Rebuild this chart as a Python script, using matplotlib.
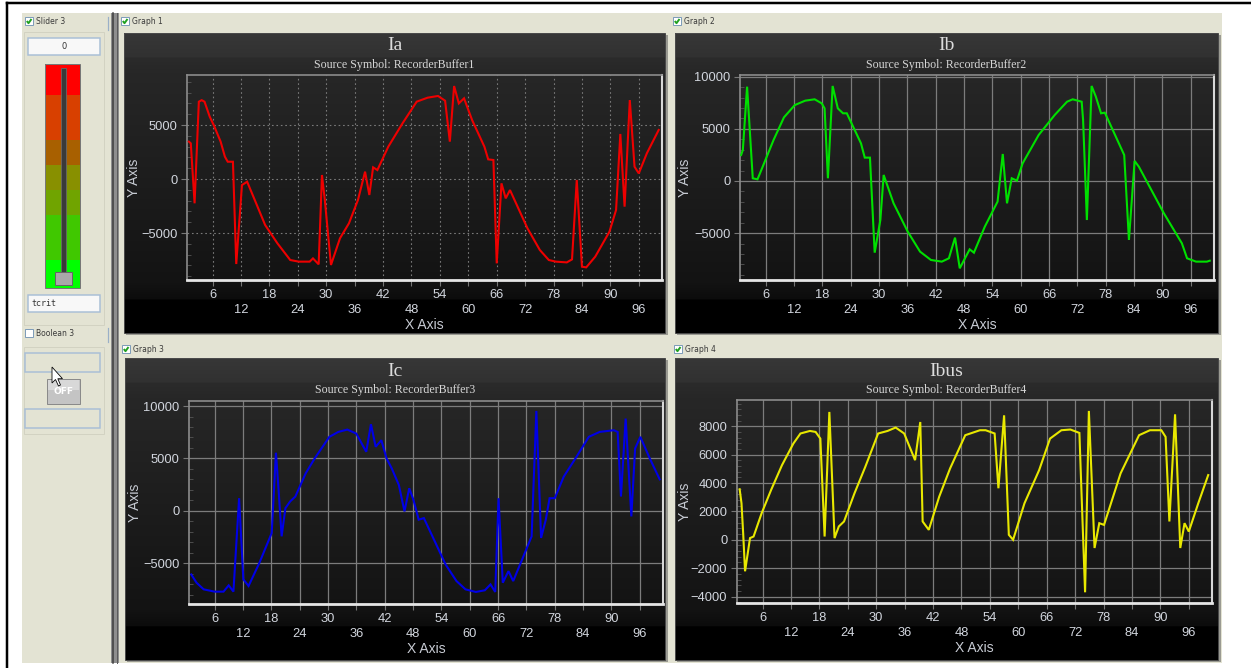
import numpy as np
import matplotlib
matplotlib.use("Agg")
import matplotlib.pyplot as plt
from matplotlib.patches import Rectangle, Polygon
from matplotlib.ticker import MultipleLocator

# ---------------- data ----------------
ia_x = [1.0, 1.4, 2.2, 3.1, 3.7, 4.3, 5.4, 6.3, 7.7, 8.6, 9.2, 10.3, 11.0, 12.2, 13.3, 15.2, 17.1, 19.7,
        22.4, 24.2, 26.5, 27.2, 28.4, 29.1, 29.7, 31.0, 32.9, 34.8, 36.7, 38.2, 39.1, 39.9, 40.8, 43.1,
        46.1, 49.1, 51.4, 53.6, 55.1, 56.1, 57.0, 58.0, 59.1, 60.8, 63.4, 64.2, 65.3, 66.0, 67.0, 67.9,
        68.8, 72.5, 75.1, 77.0, 78.5, 80.8, 81.9, 82.9, 84.0, 84.9, 86.8, 89.8, 91.2, 92.1, 93.0, 94.1,
        95.1, 96.0, 97.7, 100.2]
ia_y = [3460, 3300, -2250, 7160, 7300, 7160, 5770, 4940, 3460, 2070, 1600, 1600, -7870, -560, -250,
        -2250, -4260, -5960, -7500, -7650, -7650, -7350, -7900, 370, -1940, -7960, -5490, -4100, -1940,
        680, -1480, 1080, 830, 2990, 5150, 7160, 7530, 7690, 7250, 3460, 8610, 7000, 7470, 5460, 2990,
        1820, 1760, -7810, -400, -1790, -1020, -4570, -6570, -7500, -7650, -7720, -7440, -90, -8120,
        -8180, -7190, -4880, -2870, 4170, -2560, 7310, 1140, 520, 2380, 4540]

ib_x = [0.84, 1.2, 2.1, 3.3, 4.3, 5.4, 7.7, 9.9, 12.2, 14.4, 16.4, 17.9, 18.5, 19.2, 20.2, 21.3, 22.4,
        23.2, 26.2, 27.0, 28.1, 29.1, 30.3, 31.0, 33.1, 36.1, 38.7, 41.0, 43.3, 44.8, 46.1, 47.1, 49.2,
        50.1, 52.4, 55.1, 56.2, 57.1, 58.1, 59.2, 60.4, 63.8, 67.2, 69.8, 71.0, 72.9, 73.2, 74.0, 75.0,
        75.9, 77.0, 77.8, 81.9, 82.9, 84.1, 85.0, 90.3, 94.1, 95.2, 97.1, 99.4, 100.0]
ib_y = [2490, 2970, 9040, 260, 160, 1370, 3930, 6100, 7280, 7700, 7830, 7440, 6960, 260, 9110, 6960,
        6490, 6490, 3610, 2240, 2240, -6870, -3740, 580, -2140, -4860, -6770, -7570, -7730, -7410,
        -5430, -8370, -6550, -6870, -4380, -1980, 2590, -2140, 260, 30, 1690, 4410, 6330, 7600, 7830,
        7600, 5850, -3740, 9110, 8080, 6490, 6550, 2490, -5650, 1920, 1370, -3100, -5970, -7410, -7730,
        -7730, -7640]

ic_x = [1.07, 2.2, 3.7, 6.0, 7.9, 9.0, 10.0, 11.2, 12.1, 13.2, 15.5, 18.1, 19.0, 19.6, 20.2, 21.0,
        22.0, 23.1, 25.3, 27.2, 30.3, 32.2, 34.1, 36.0, 38.1, 39.1, 40.1, 41.3, 42.4, 43.5, 45.0, 46.2,
        47.2, 48.1, 49.2, 50.3, 52.6, 54.9, 57.2, 59.1, 61.3, 63.2, 64.4, 65.4, 66.1, 67.0, 68.2, 69.2,
        70.8, 73.1, 74.1, 75.1, 76.1, 76.9, 78.0, 79.9, 82.6, 85.2, 87.5, 90.5, 91.3, 92.0, 93.0, 94.2,
        95.0, 96.1, 98.1, 100.2]
ic_y = [-6080, -6870, -7500, -7720, -7720, -7120, -7720, 1200, -6550, -7180, -4970, -2120, 5540, 1680,
        -2440, 250, 890, 1360, 3580, 5000, 7060, 7530, 7750, 7370, 5630, 8260, 6110, 6740, 5000, 4050,
        2470, -60, 2150, 1040, -850, -700, -2910, -5130, -6710, -7500, -7750, -7590, -7030, -7750, 1200,
        -6870, -5760, -6710, -4970, -2440, 9530, -2590, -850, 1200, 1200, 3260, 5160, 7060, 7530, 7690,
        7530, 1360, 8800, -540, 5950, 7060, 5000, 3000]

ibus_x = [1.16, 1.55, 1.9, 2.3, 3.35, 4.1, 5.8, 7.8, 10.1, 12.5, 14.0, 16.0, 17.2, 18.2, 19.1, 20.1,
          21.2, 22.1, 23.2, 25.4, 27.7, 30.4, 32.4, 34.1, 35.9, 38.2, 39.3, 39.8, 41.1, 43.3, 45.6, 48.8,
          51.9, 53.1, 55.0, 55.8, 57.0, 58.0, 58.9, 61.3, 64.4, 66.7, 69.1, 71.0, 72.9, 73.3, 74.1, 74.9,
          76.1, 77.1, 78.1, 81.6, 85.5, 87.8, 90.2, 91.1, 91.9, 93.1, 94.2, 95.1, 96.0, 98.0, 100.1]
ibus_y = [3560, 2570, 470, -2220, 120, 230, 1870, 3510, 5260, 6780, 7490, 7670, 7600, 7130, 230, 9010,
          120, 940, 1290, 3270, 5150, 7490, 7670, 7910, 7490, 5610, 8300, 1290, 700, 3040, 5030, 7370,
          7720, 7720, 7490, 3630, 8770, 350, 0, 2570, 4910, 7130, 7720, 7770, 7530, 3740, -3700, 9080,
          -580, 1170, 1050, 4680, 7370, 7720, 7720, 7250, 1290, 8840, -580, 1170, 580, 2570, 4560]

titles = ["Ia", "Ib", "Ic", "Ibus"]
subtitles = ["Source Symbol: RecorderBuffer1", "Source Symbol: RecorderBuffer2",
             "Source Symbol: RecorderBuffer3", "Source Symbol: RecorderBuffer4"]
graph_names = ["Graph 1", "Graph 2", "Graph 3", "Graph 4"]
x_ticks_row1 = [6, 18, 30, 42, 54, 66, 78, 90]
x_ticks_row2 = [12, 24, 36, 48, 60, 72, 84, 96]
y_steps = [5000, 5000, 5000, 2000]
y_limits = [(-9350, 9630), (-9490, 10160), (-8900, 10480), (-4455, 9850)]
line_colors = ["#ee0000", "#00e000", "#0000e6", "#e8e800"]
series = [(ia_x, ia_y), (ib_x, ib_y), (ic_x, ic_y), (ibus_x, ibus_y)]

# ---------------- figure ----------------
W, H = 1251, 668
fig = plt.figure(figsize=(W / 100, H / 100), dpi=100)
fig.patch.set_facecolor("white")
bg = fig.add_axes([0, 0, 1, 1])
bg.set_xlim(0, W)
bg.set_ylim(H, 0)
bg.axis("off")

PX = 0.72  # one pixel in points
BEIGE = "#e3e3d3"


def rect(x0, y0, x1, y1, fc, ec="none", lw=0, z=1):
    bg.add_patch(Rectangle((x0, y0), x1 - x0, y1 - y0, facecolor=fc, edgecolor=ec,
                           linewidth=lw, zorder=z))


def checkbox(x, y, label, checked=True):
    rect(x, y, x + 8, y + 8, "white", "#7f9db9", PX, 5)
    if checked:
        bg.plot([x + 1.8, x + 3.5, x + 6.5], [y + 4, y + 6.2, y + 2], color="#21a121",
                lw=1.4, zorder=6, solid_capstyle="butt")
    bg.text(x + 11, y + 4.5, label, fontsize=5.5, color="#3a3a3a", va="center", ha="left",
            family="DejaVu Sans", zorder=6)


# outer frame
rect(22, 13, 1222, 663, BEIGE, z=0.5)
bg.plot([7, W], [3, 3], color="black", lw=2.5 * PX, zorder=3)
bg.plot([7, 7], [3, H], color="black", lw=2.5 * PX, zorder=3)

# splitter
rect(111, 13, 119, 663, "#8e8e8e", z=1)
bg.plot([112.5, 112.5], [13, 663], color="#3c3c3c", lw=1.5 * PX, zorder=2)
bg.plot([117.2, 117.2], [13, 663], color="#5a5a5a", lw=1.0 * PX, zorder=2)
bg.plot([108, 108], [17, 30], color="#9ab0c8", lw=1.2 * PX, zorder=2)
bg.plot([108, 108], [328, 342], color="#9ab0c8", lw=1.2 * PX, zorder=2)

# left control column
checkbox(25, 17, "Slider 3")
rect(24, 32, 104, 325, "none", "#d2d2c2", PX, 1.5)
rect(28, 38, 100, 55, "#f8f8f8", "#a9bfd6", 1.5 * PX, 3)
bg.text(64, 46.5, "0", fontsize=6, color="#333333", ha="center", va="center", zorder=4)
slider_bands = [(64, 95, "#ff0000"), (95, 140, "#d84000"), (140, 165, "#a86000"),
                (165, 190, "#889000"), (190, 215, "#70a400"), (215, 260, "#40c800"),
                (260, 288, "#00ff00")]
for y0, y1, c in slider_bands:
    rect(45, y0, 80, y1, c, z=2)
rect(45, 64, 80, 288, "none", "#777777", PX, 3)
rect(61, 68, 66, 282, "#3a3a3a", "#6a6a6a", 0.8 * PX, 3)
rect(55, 272, 72, 285, "#a8a8a8", "#666666", PX, 4)
rect(28, 295, 100, 312, "#f8f8f8", "#a9bfd6", 1.5 * PX, 3)
bg.text(31, 303.5, "tcrit", fontsize=6, color="#333333", ha="left", va="center",
        family="DejaVu Sans Mono", zorder=4)
checkbox(25, 329, "Boolean 3", checked=False)
rect(24, 347, 104, 434, "none", "#d2d2c2", PX, 1.5)
rect(25, 353, 100, 372, "none", "#a9bfd6", 1.5 * PX, 3)
rect(47, 379, 80, 404, "#c4c4c4", "#8a8a8a", PX, 3)
rect(48, 380, 79, 390, "#d8d8d8", z=3.5)
bg.text(63.5, 391.5, "OFF", fontsize=6.5, color="white", ha="center", va="center",
        fontweight="bold", zorder=4)
rect(25, 409, 100, 428, "none", "#a9bfd6", 1.5 * PX, 3)
bg.add_patch(Polygon([(52, 367), (52, 383), (55.5, 379.5), (58.5, 386), (60.5, 385),
                      (57.8, 378.7), (62.5, 378.7)], closed=True, facecolor="white",
                     edgecolor="black", linewidth=0.8 * PX, zorder=8))

# graph panels (pixel rectangles)
panels = [(124, 33, 665, 333), (675, 33, 1218, 333), (125, 358, 665, 660), (675, 358, 1218, 660)]
plot_boxes = [(187, 75, 662, 280), (740, 75, 1214, 280), (189, 401, 663, 604), (737, 400, 1212, 603)]
check_pos = [(121, 17), (673, 17), (122, 345), (674, 345)]


def panel_bg(x0, y0, x1, y1):
    n = int(y1 - y0)
    t = np.arange(n) + 0.5
    s = n / 300.0
    st = np.array([0, 24, 25, 40, 250, 266, 267, 300]) * s
    sv = np.array([0x37, 0x31, 0x2b, 0x27, 0x13, 0x0c, 0x00, 0x00]) / 255.0
    v = np.interp(t, st, sv)
    img = np.repeat(v[:, None], 3, axis=1)[:, None, :]
    rect(x0 + 2, y0 + 2, x1 + 3, y1 + 2, "#9a9a92", z=1.5)
    bg.imshow(img, extent=(x0, x1, y1, y0), aspect="auto", origin="upper",
              interpolation="bilinear", zorder=2)
    rect(x0, y0, x1, y1, "none", "#4a4a4a", PX, 2.5)


for i in range(4):
    x0, y0, x1, y1 = panels[i]
    panel_bg(x0, y0, x1, y1)
    checkbox(check_pos[i][0], check_pos[i][1], graph_names[i])
    cx = (x0 + x1) / 2
    bg.text(cx, y0 + 13, titles[i], fontsize=14, color="#dcdcdc", ha="center", va="center",
            family="Liberation Serif", zorder=4)
    bg.text(cx, y0 + 32, subtitles[i], fontsize=8.6, color="#d6d6d6", ha="center",
            va="center", family="Liberation Serif", zorder=4)

bg.set_xlim(0, W)
bg.set_ylim(H, 0)

# graph axes
TICK_C = "#d2d6de"
for i in range(4):
    l, t, r, b = plot_boxes[i]
    ax = fig.add_axes([l / W, 1 - b / H, (r - l) / W, (b - t) / H])
    ax.set_facecolor("none")
    xs, ys = series[i]
    ax.plot(xs, ys, color=line_colors[i], lw=1.5, zorder=3, solid_joinstyle="miter")
    ax.set_xlim(0.6, 100.9)
    ax.set_ylim(*y_limits[i])
    ax.set_xticks(x_ticks_row1)
    ax.set_xticklabels([str(v) for v in x_ticks_row1])
    ax.set_xticks(x_ticks_row2, minor=True)
    ax.set_xticklabels([str(v) for v in x_ticks_row2], minor=True)
    ax.yaxis.set_major_locator(MultipleLocator(y_steps[i]))
    ax.yaxis.set_minor_locator(MultipleLocator(y_steps[i] / 5))
    ax.tick_params(axis="x", which="major", length=4, width=0.8, color="#777777",
                   labelcolor=TICK_C, labelsize=9.3, pad=2.5)
    ax.tick_params(axis="x", which="minor", length=4, width=0.8, color="#777777",
                   labelcolor=TICK_C, labelsize=9.3, pad=13.5)
    ax.tick_params(axis="y", which="major", length=4, width=0.8, color="#777777",
                   labelcolor=TICK_C, labelsize=9.3, pad=3)
    ax.tick_params(axis="y", which="minor", direction="in", length=3, width=0.6,
                   color="#555555")
    for lab in ax.get_xticklabels(which="both") + ax.get_yticklabels():
        lab.set_family("Liberation Sans")
    if i == 0:
        gkw = dict(color="#7a7a7a", lw=0.8, ls=(0, (1.5, 2.5)))
    else:
        gkw = dict(color="#7c7c7c", lw=0.9, ls="-")
    ax.grid(True, axis="x", which="both", **gkw)
    ax.grid(True, axis="y", which="major", **gkw)
    ax.set_axisbelow(True)
    ax.spines["top"].set_color("#8c8c8c")
    ax.spines["left"].set_color("#8c8c8c")
    ax.spines["right"].set_color("#d8d8d8")
    ax.spines["bottom"].set_color("#e6e6e6")
    ax.spines["bottom"].set_linewidth(2.0)
    ax.spines["right"].set_linewidth(1.5)
    ax.spines["top"].set_linewidth(1.2)
    ax.spines["left"].set_linewidth(1.2)
    ax.set_xlabel("X Axis", fontsize=10, color="#c8ccd4", family="Liberation Sans")
    ax.set_ylabel("Y Axis", fontsize=10, color="#c8ccd4", family="Liberation Sans")
    ax.xaxis.set_label_coords(0.5, -45.0 / (b - t))
    ax.xaxis.label.set_va("center")
    ax.yaxis.set_label_coords(-(l - panels[i][0] - 10.0) / (r - l), 0.5)
    ax.yaxis.label.set_va("center")

fig.savefig("out.png", dpi=100, facecolor="white")
